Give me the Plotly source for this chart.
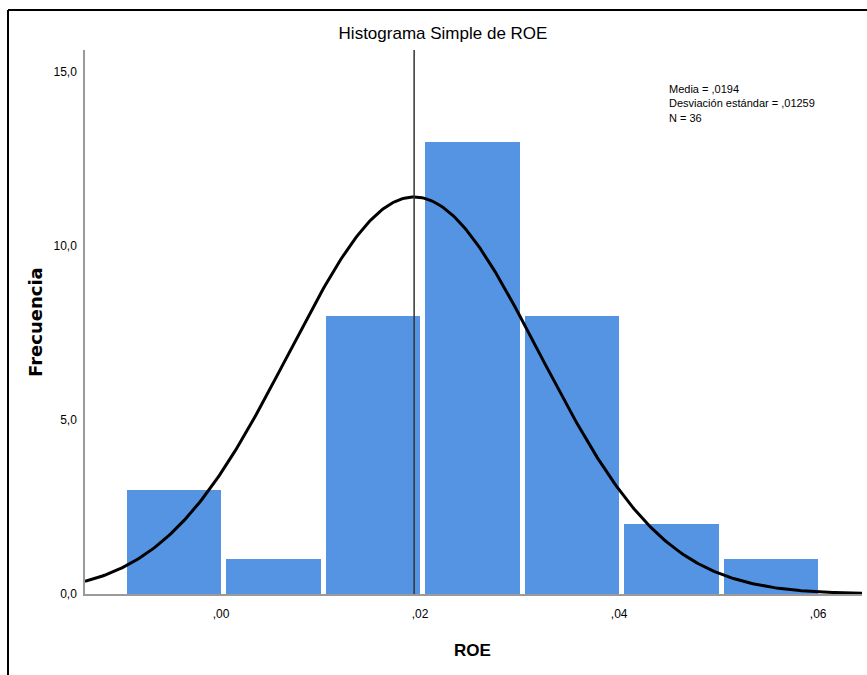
import numpy as np
import plotly.graph_objects as go

# Data
bin_starts = [-0.01, 0.00, 0.01, 0.02, 0.03, 0.04, 0.05]
counts = [3, 1, 8, 13, 8, 2, 1]
bin_width = 0.01
mean_roe = 0.0194
sd_roe = 0.01259
n_obs = 36
x_tick_vals = [0.00, 0.02, 0.04, 0.06]
x_tick_text = [",00", ",02", ",04", ",06"]
y_tick_vals = [0, 5, 10, 15]
y_tick_text = ["0,0", "5,0", "10,0", "15,0"]

W, H = 867, 675
ML, MR, MT, MB = 85, 5, 50, 81
pw = W - ML - MR
ph = H - MT - MB

x_min, x_max = -0.01367, 0.0644
y_max = 15.63

fig = go.Figure()

centers = [s + bin_width / 2 for s in bin_starts]
fig.add_trace(go.Bar(
    x=centers, y=counts,
    width=bin_width * 0.95,
    offset=-bin_width * 0.45,
    marker=dict(color="#5594e2", line=dict(width=0)),
    hoverinfo="x+y", showlegend=False,
))

xs = np.linspace(x_min, x_max, 400)
ys = n_obs * bin_width / (sd_roe * np.sqrt(2 * np.pi)) * np.exp(-0.5 * ((xs - mean_roe) / sd_roe) ** 2)
fig.add_trace(go.Scatter(x=xs, y=ys, mode="lines",
                         line=dict(color="black", width=3), showlegend=False, hoverinfo="skip"))

# mean line
fig.add_shape(type="line", xref="x", yref="y", x0=mean_roe, x1=mean_roe, y0=0, y1=y_max,
              line=dict(color="#333333", width=1.5))

# outer frame (left and top)
fx = (8 - ML) / pw
fy = 1 + (MT - 10) / ph
fig.add_shape(type="line", xref="paper", yref="paper", x0=fx, x1=fx, y0=fy, y1=-MB / ph - 0.01,
              line=dict(color="black", width=2))
fig.add_shape(type="line", xref="paper", yref="paper", x0=fx, x1=(W - ML) / pw + 0.01, y0=fy, y1=fy,
              line=dict(color="black", width=2))

fig.add_annotation(xref="paper", yref="paper", x=(667 - ML) / pw, y=1 - (81 - MT) / ph,
                   xanchor="left", yanchor="top", showarrow=False, align="left",
                   text=f"Media = ,{str(mean_roe).split('.')[1]}<br>Desviación estándar = ,{str(sd_roe).split('.')[1]}<br>N = {n_obs}",
                   font=dict(family="Liberation Sans, Arial", size=11, color="black"))

# axis titles as annotations for precise placement
fig.add_annotation(xref="paper", yref="paper", x=(35 - ML) / pw, y=1 - (322 - MT) / ph,
                   xanchor="center", yanchor="middle", showarrow=False, textangle=-90,
                   text="<b>Frecuencia</b>",
                   font=dict(family="DejaVu Sans, Liberation Sans", size=18, color="black"))
fig.add_annotation(xref="paper", yref="paper", x=(472 - ML) / pw, y=-(650 - (H - MB)) / ph,
                   xanchor="center", yanchor="middle", showarrow=False,
                   text="<b>ROE</b>",
                   font=dict(family="Liberation Sans, Arial", size=17, color="black"))

fig.update_layout(
    width=W, height=H,
    margin=dict(l=ML, r=MR, t=MT, b=MB, autoexpand=False),
    paper_bgcolor="white", plot_bgcolor="white",
    bargap=0,
    title=dict(text="Histograma Simple de ROE", x=443 / W, xanchor="center", y=1 - 33 / H, yanchor="middle",
               font=dict(family="Liberation Sans, Arial", size=17, color="black")),
    xaxis=dict(range=[x_min, x_max], tickvals=x_tick_vals, ticktext=x_tick_text,
               showgrid=False, zeroline=False, showline=True, linecolor="#9a9a9a", linewidth=1.5,
               ticks="", ticklabelstandoff=8,
               tickfont=dict(family="Liberation Sans, Arial", size=12, color="black")),
    yaxis=dict(range=[0, y_max], tickvals=y_tick_vals, ticktext=y_tick_text,
               showgrid=False, zeroline=False, showline=True, linecolor="#9a9a9a", linewidth=1.5,
               ticks="", ticklabelstandoff=4,
               tickfont=dict(family="Liberation Sans, Arial", size=12, color="black")),
    font=dict(family="Liberation Sans, Arial"),
)

fig.write_html("out.html", config={"displayModeBar": False},
               post_script="document.body.style.margin='0';document.body.style.overflow='hidden';")
